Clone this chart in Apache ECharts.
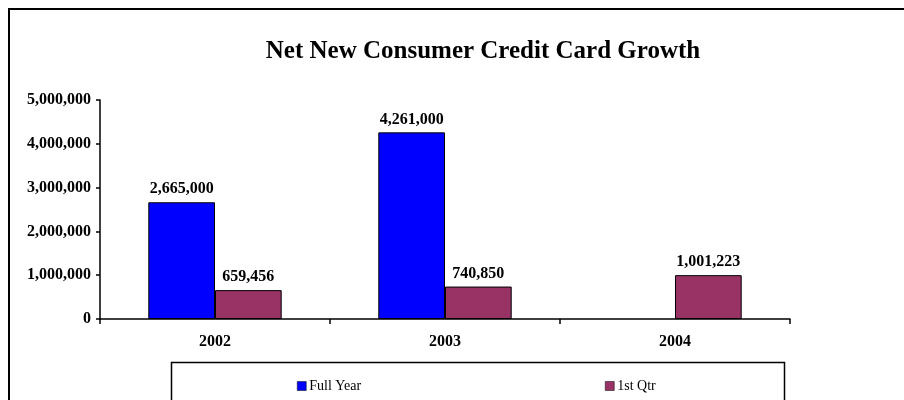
<!DOCTYPE html>
<html>
<head>
<meta charset="utf-8">
<script src="https://cdn.jsdelivr.net/npm/echarts@6/dist/echarts.min.js"></script>
<style>html,body{margin:0;padding:0;background:#fff}#c{width:904px;height:400px}</style>
</head>
<body>
<div id="c"></div>
<script>
const categories = ['2002', '2003', '2004'];
const fullYear = [2665000, 4261000, null];
const firstQtr = [659456, 740850, 1001223];
const yTicks = { min: 0, max: 5000000, interval: 1000000 };

const fmt = v => String(v).replace(/\B(?=(\d{3})+(?!\d))/g, ',');
const serif = '"Liberation Serif", "Times New Roman", serif';

const chart = echarts.init(document.getElementById('c'));
chart.setOption({
  animation: false,
  backgroundColor: '#fff',
  title: {
    text: 'Net New Consumer Credit Card Growth',
    left: 478, top: 34, textAlign: 'center',
    textStyle: { fontFamily: serif, fontWeight: 'bold', fontSize: 25, color: '#000' }
  },
  legend: [
    { data: ['Full Year'], left: 292, top: 374, icon: 'rect', itemWidth: 9, itemHeight: 9, itemGap: 4,
      textStyle: { fontFamily: serif, fontSize: 14, color: '#000', padding: [0,0,0,-2] },
      itemStyle: { borderColor: '#000', borderWidth: 0.5 } },
    { data: ['1st Qtr'], left: 600, top: 374, icon: 'rect', itemWidth: 9, itemHeight: 9, itemGap: 4,
      textStyle: { fontFamily: serif, fontSize: 14, color: '#000', padding: [0,0,0,-2] },
      itemStyle: { borderColor: '#000', borderWidth: 0.5 } }
  ],
  grid: { left: 100, right: 114, top: 100, bottom: 81, containLabel: false },
  xAxis: {
    type: 'category', data: categories,
    axisLine: { lineStyle: { color: '#000', width: 1.5 } },
    axisTick: { show: true, length: 5, lineStyle: { color: '#000', width: 1.5 } },
    axisLabel: { fontFamily: serif, fontWeight: 'bold', fontSize: 16, color: '#000', margin: 15 }
  },
  yAxis: {
    type: 'value', min: yTicks.min, max: yTicks.max, interval: yTicks.interval,
    splitLine: { show: false },
    axisLine: { show: true, lineStyle: { color: '#000', width: 1.5 } },
    axisTick: { show: true, length: 4, lineStyle: { color: '#000', width: 1.5 } },
    axisLabel: { fontFamily: serif, fontWeight: 'bold', fontSize: 16, color: '#000', margin: 9, formatter: fmt }
  },
  series: [
    { name: 'Full Year', type: 'bar', data: fullYear, barGap: '0%', barCategoryGap: '42%',
      itemStyle: { color: '#0000FF', borderColor: '#000', borderWidth: 1 },
      label: { show: true, position: 'top', distance: 5, fontFamily: serif, fontWeight: 'bold', fontSize: 16, color: '#000', formatter: p => fmt(p.value) } },
    { name: '1st Qtr', type: 'bar', data: firstQtr, barGap: '0%', barCategoryGap: '42%',
      itemStyle: { color: '#993366', borderColor: '#000', borderWidth: 1 },
      label: { show: true, position: 'top', distance: 5, fontFamily: serif, fontWeight: 'bold', fontSize: 16, color: '#000', formatter: p => fmt(p.value) } }
  ],
  graphic: [
    { type: 'rect', shape: { x: 9, y: 9, width: 920, height: 420 }, style: { fill: null, stroke: '#000', lineWidth: 2 }, silent: true },
    { type: 'rect', shape: { x: 171.5, y: 362.5, width: 613, height: 60 }, style: { fill: null, stroke: '#000', lineWidth: 1.5 }, silent: true }
  ]
});
</script>
</body>
</html>
